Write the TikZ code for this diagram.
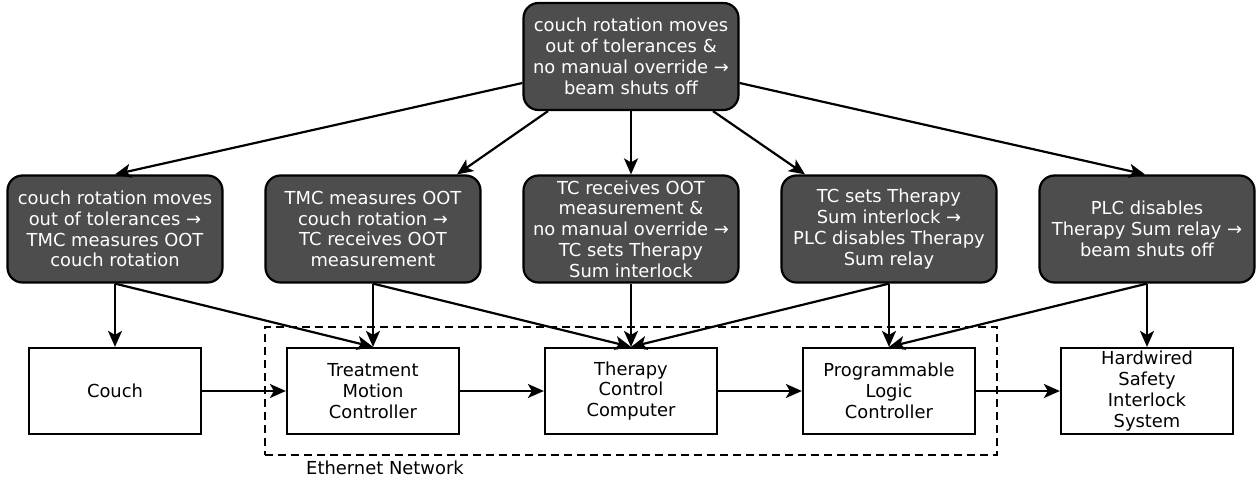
\documentclass[tikz,border=0pt]{standalone}
\usepackage{fontspec}
\setmainfont{DejaVu Sans}
\usetikzlibrary{arrows.meta}
\definecolor{darkbox}{HTML}{4D4D4D}
\begin{document}
\begin{tikzpicture}[x=1pt,y=-1pt,
  every node/.style={font=\fontsize{17.9}{20.8}\selectfont, align=center, inner sep=0pt},
  event/.style={draw=black, line width=2.2pt, fill=darkbox, text=white, rounded corners=15pt,
    minimum width=215pt, minimum height=107pt},
  comp/.style={draw=black, line width=2.2pt, fill=white, text=black,
    minimum width=172pt, minimum height=86pt},
  conn/.style={line width=2.2pt, -{Stealth[length=16pt,width=14pt,inset=4pt]}},
  netbox/.style={draw=black, line width=1.8pt, dash pattern=on 8pt off 5pt,
    minimum width=732pt, minimum height=128pt}]
\useasboundingbox (0,0) rectangle (1258,484);
\node[netbox] (eth) at (631,391) {};
\node (ethlabel) at (385,468) {Ethernet Network};

\node[event] (top) at (631,56.5) {couch rotation moves\\out of tolerances \&\\no manual override →\\beam shuts off};

\node[event] (m1) at (115,229) {couch rotation moves\\out of tolerances →\\TMC measures OOT\\couch rotation};
\node[event] (m2) at (373,229) {TMC measures OOT\\couch rotation →\\TC receives OOT\\measurement};
\node[event] (m3) at (631,229) {TC receives OOT\\measurement \&\\no manual override →\\TC sets Therapy\\Sum interlock};
\node[event] (m4) at (889,229) {TC sets Therapy\\Sum interlock →\\PLC disables Therapy\\Sum relay};
\node[event] (m5) at (1147,229) {PLC disables\\Therapy Sum relay →\\beam shuts off};

\node[comp] (b1) at (115,391) {Couch};
\node[comp] (b2) at (373,391) {Treatment\\Motion\\Controller};
\node[comp] (b3) at (631,391) {Therapy\\Control\\Computer};
\node[comp] (b4) at (889,391) {Programmable\\Logic\\Controller};
\node[comp] (b5) at (1147,391) {Hardwired\\Safety\\Interlock\\System};

\draw[conn] ([yshift=-26.5pt]top.west) -- (m1.north);
\draw[conn] ([xshift=-83pt]top.south) -- ([xshift=84pt]m2.north);
\draw[conn] (top.south) -- (m3.north);
\draw[conn] ([xshift=82pt]top.south) -- ([xshift=-84pt]m4.north);
\draw[conn] ([yshift=-26.5pt]top.east) -- ([xshift=-2pt]m5.north);

\draw[conn] (m1.south) -- (b1.north);
\draw[conn] (m1.south) -- (b2.north);
\draw[conn] (m2.south) -- (b2.north);
\draw[conn] (m2.south) -- (b3.north);
\draw[conn] (m3.south) -- (b3.north);
\draw[conn] (m4.south) -- (b3.north);
\draw[conn] (m4.south) -- (b4.north);
\draw[conn] (m5.south) -- (b4.north);
\draw[conn] (m5.south) -- (b5.north);

\draw[conn] (b1.east) -- (b2.west);
\draw[conn] (b2.east) -- (b3.west);
\draw[conn] (b3.east) -- (b4.west);
\draw[conn] (b4.east) -- (b5.west);
\end{tikzpicture}
\end{document}
